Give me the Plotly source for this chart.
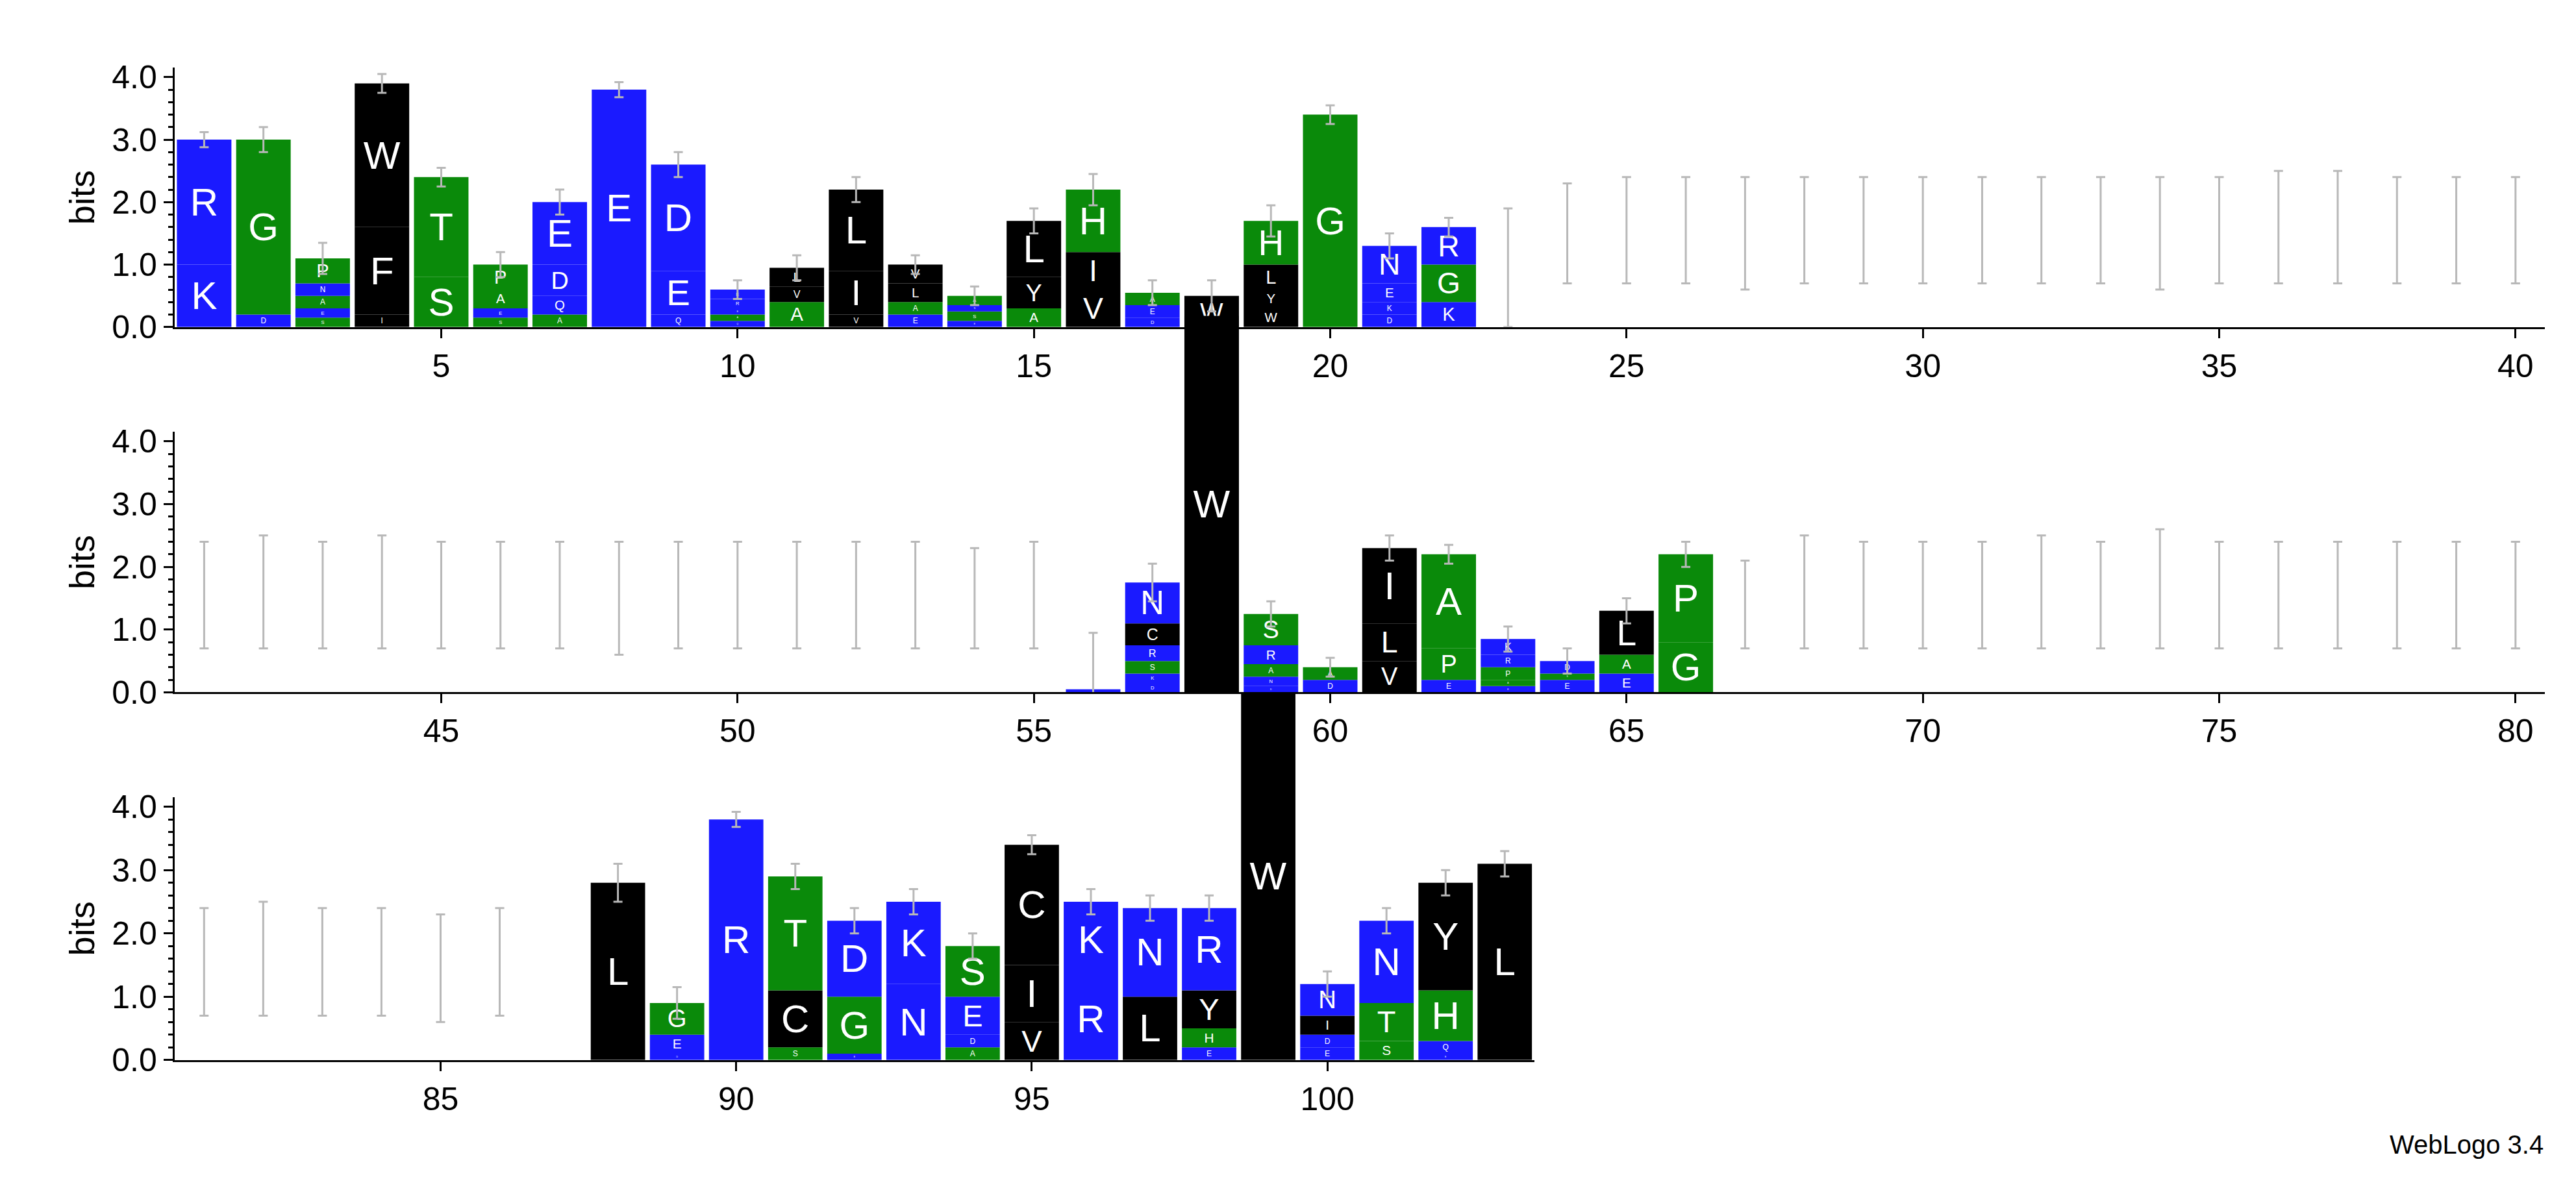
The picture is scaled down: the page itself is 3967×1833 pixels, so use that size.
import plotly.graph_objects as go

# Stacks bottom -> top for each position
positions = [1,2,3,4,5,6,7,8,9,10,11,12,13,14,15,16,17,18,19,20,21,22,
             56,57,58,59,60,61,62,63,64,65,66,
             88,89,90,91,92,93,94,95,96,97,98,99,100,101,102,103]
letters = [
    "KR", "DG", "SEANP", "IFW", "ST", "SEAP", "AQDE", "E", "QED", "QAERE", "AVL", "VIL", "EALV", "ESNA", "AYL", "VIH", "DEA", "W", "WYLH", "G", "DKEN", "KGR",
    "K", "DKSRCN", "W", "DNARS", "DA", "VLI", "EPA", "EAPRK", "ESD", "EAL", "GP",
    "L", "DEG", "R", "SCT", "EGD", "NK", "ADES", "VIC", "RK", "LN", "EHYR", "W", "EDIN", "STN", "EQHY", "L",
]
heights = [
    [1.0,2.0],[0.2,2.8],[0.15,0.15,0.2,0.2,0.4],[0.2,1.4,2.3],[0.8,1.6],[0.15,0.15,0.3,0.4],[0.2,0.3,0.5,1.0],[3.8],[0.2,0.7,1.7],[0.1,0.1,0.1,0.15,0.15],[0.4,0.25,0.3],[0.2,0.7,1.3],[0.2,0.2,0.3,0.3],[0.1,0.15,0.1,0.15],[0.3,0.5,0.9],[0.6,0.6,1.0],[0.15,0.2,0.2],[0.5],[0.3,0.3,0.4,0.7],[3.4],[0.2,0.2,0.3,0.6],[0.4,0.6,0.6],
    [0.05],[0.15,0.15,0.2,0.25,0.35,0.65],[6.0],[0.1,0.15,0.2,0.3,0.5],[0.2,0.2],[0.5,0.6,1.2],[0.2,0.5,1.5],[0.1,0.1,0.2,0.2,0.25],[0.2,0.1,0.2],[0.3,0.3,0.7],[0.8,1.4],
    [2.8],[0.1,0.3,0.5],[3.8],[0.2,0.9,1.8],[0.1,0.9,1.2],[1.2,1.3],[0.2,0.2,0.6,0.8],[0.6,0.9,1.9],[1.3,1.2],[1.0,1.4],[0.2,0.3,0.6,1.3],[5.8],[0.2,0.2,0.3,0.5],[0.3,0.6,1.3],[0.1,0.2,0.8,1.7],[3.1],
]
errors = [0.12,0.2,0.25,0.15,0.15,0.2,0.2,0.12,0.2,0.15,0.2,0.2,0.15,0.15,0.2,0.25,0.2,0.25,0.25,0.15,0.2,0.15,
          0.9,0.3,0.0,0.2,0.15,0.2,0.15,0.2,0.2,0.2,0.2,
          0.3,0.25,0.12,0.2,0.2,0.2,0.2,0.15,0.2,0.2,0.2,0.0,0.2,0.2,0.2,0.2]
empty_positions = [23,24,25,26,27,28,29,30,31,32,33,34,35,36,37,38,39,40,
                   41,42,43,44,45,46,47,48,49,50,51,52,53,54,55,67,68,69,70,71,72,73,74,75,76,77,78,79,80,
                   81,82,83,84,85,86,87]
empty_low = [0.0,0.7,0.7,0.7,0.6,0.7,0.7,0.7,0.7,0.7,0.7,0.6,0.7,0.7,0.7,0.7,0.7,0.7,
             0.7,0.7,0.7,0.7,0.7,0.7,0.7,0.6,0.7,0.7,0.7,0.7,0.7,0.7,0.7,0.7,0.7,0.7,0.7,0.7,0.7,0.7,0.7,0.7,0.7,0.7,0.7,0.7,0.7,
             0.7,0.7,0.7,0.7,0.6,0.7,0.7]
empty_high = [1.9,2.3,2.4,2.4,2.4,2.4,2.4,2.4,2.4,2.4,2.4,2.4,2.4,2.5,2.5,2.4,2.4,2.4,
              2.4,2.5,2.4,2.5,2.4,2.4,2.4,2.4,2.4,2.4,2.4,2.4,2.4,2.3,2.4,2.1,2.5,2.4,2.4,2.4,2.5,2.4,2.6,2.4,2.4,2.4,2.4,2.4,
              2.4,2.4,2.5,2.4,2.4,2.3,2.4]

BLUE, GREEN, BLACK = "#1a1aff", "#0a8a0a", "#000000"
def color(l):
    if l in "DEKRNQ": return BLUE
    if l in "GSTHAP": return GREEN
    return BLACK

def row_of(p):
    return 1 if p <= 40 else (2 if p <= 80 else 3)

YMAX = 4.15
ydom = {1: [0.728, 0.953], 2: [0.411, 0.637], 3: [0.092, 0.32]}
# tall overflow axes (invisible) spanning the row and the one above, same bits scale
overflow_dom = {2: [0.411, 0.953], 3: [0.092, 0.637]}
overflow_range = {r: YMAX * (overflow_dom[r][1] - overflow_dom[r][0]) / (ydom[r][1] - ydom[r][0]) for r in (2, 3)}

fig = go.Figure()
for p, ls, hs, e in zip(positions, letters, heights, errors):
    r = row_of(p)
    xa = "x" if r == 1 else f"x{r}"
    ya = "y" if r == 1 else f"y{r}"
    if sum(hs) > YMAX:
        ya = "y4" if r == 2 else "y5"
    base = 0.0
    for l, h in zip(ls, hs):
        fig.add_trace(go.Bar(x=[p], y=[h], base=[base], width=0.92, marker_color=color(l),
                             marker_line_width=0, text=[l], textposition="inside",
                             insidetextanchor="middle", textangle=0,
                             insidetextfont=dict(color="white", size=60, family="Liberation Sans"),
                             cliponaxis=False, xaxis=xa, yaxis=ya, showlegend=False, hoverinfo="skip"))
        base += h
    if e > 0:
        fig.add_trace(go.Scatter(x=[p], y=[base], mode="markers", marker=dict(size=1, color="rgba(0,0,0,0)"),
                                 error_y=dict(type="data", array=[e], color="#b8b8b8", thickness=3, width=7),
                                 xaxis=xa, yaxis=ya, showlegend=False, hoverinfo="skip"))
for p, lo, hi in zip(empty_positions, empty_low, empty_high):
    r = row_of(p)
    xa = "x" if r == 1 else f"x{r}"
    ya = "y" if r == 1 else f"y{r}"
    mid = (lo + hi) / 2
    fig.add_trace(go.Scatter(x=[p], y=[mid], mode="markers", marker=dict(size=1, color="rgba(0,0,0,0)"),
                             error_y=dict(type="data", array=[(hi - lo) / 2], color="#b8b8b8", thickness=3, width=7),
                             xaxis=xa, yaxis=ya, showlegend=False, hoverinfo="skip"))

font = dict(family="Liberation Sans", size=50, color="black")
ax_common = dict(showline=True, linecolor="black", linewidth=3, ticks="outside", ticklen=14, tickwidth=3,
                 tickcolor="black", showgrid=False, zeroline=False, tickfont=font)
xdom = {1: [0.066, 0.99], 2: [0.066, 0.99], 3: [0.066, 0.596]}
xr = {1: [0.5, 40.5], 2: [40.5, 80.5], 3: [80.5, 103.5]}
xt = {1: list(range(5, 41, 5)), 2: list(range(45, 81, 5)), 3: list(range(85, 101, 5))}
layout = dict(barmode="overlay", plot_bgcolor="rgba(0,0,0,0)", paper_bgcolor="white",
              margin=dict(l=0, r=0, t=0, b=0), font=font)
for r in (1, 2, 3):
    s = "" if r == 1 else str(r)
    layout[f"xaxis{s}"] = dict(ax_common, domain=xdom[r], range=xr[r], tickvals=xt[r], anchor=f"y{s}")
    layout[f"yaxis{s}"] = dict(ax_common, domain=ydom[r], range=[0, YMAX], tickvals=[0, 1, 2, 3, 4],
                               tickformat=".1f", anchor=f"x{s}", minor=dict(ticks="outside", ticklen=7, dtick=0.2, tickcolor="black"),
                               title=dict(text="bits", font=dict(family="Liberation Sans", size=54), standoff=10))
for r, name in ((2, "yaxis4"), (3, "yaxis5")):
    layout[name] = dict(domain=overflow_dom[r], range=[0, overflow_range[r]], visible=False,
                        anchor=f"x{r}", showgrid=False, zeroline=False)
fig.update_layout(**layout)
fig.add_annotation(text="WebLogo 3.4", xref="paper", yref="paper", x=0.99, y=0.005, xanchor="right",
                   yanchor="bottom", showarrow=False, font=dict(family="Liberation Sans", size=40))
fig.write_html("out.html")
